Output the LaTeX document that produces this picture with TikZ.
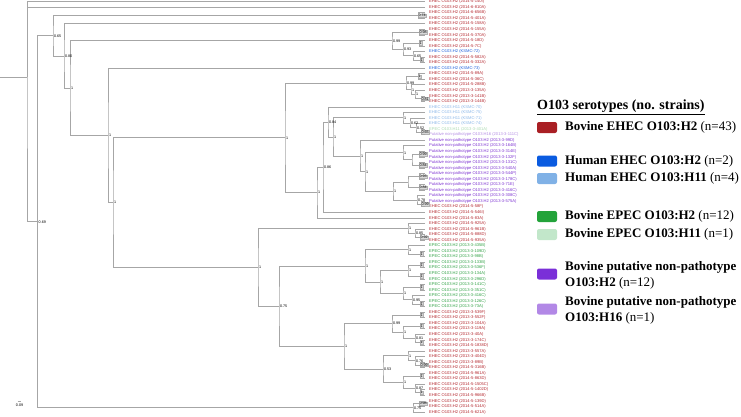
\documentclass[tikz,border=0pt]{standalone}
\usepackage{fontspec}
\setmainfont{Liberation Serif}
\newfontfamily\treefont{Liberation Sans}
\usetikzlibrary{calc}
\definecolor{ehec}{HTML}{B3262D}
\definecolor{hhtwo}{HTML}{1D5FDB}
\definecolor{hheleven}{HTML}{8AB6E8}
\definecolor{epec}{HTML}{2EA043}
\definecolor{epeceleven}{HTML}{A9D9B0}
\definecolor{put}{HTML}{7B30D0}
\definecolor{putsixteen}{HTML}{B38BE3}
\definecolor{kred}{HTML}{A91F24}
\definecolor{kblue}{HTML}{0A5BE0}
\definecolor{klblue}{HTML}{80B1E6}
\definecolor{kgreen}{HTML}{23A33A}
\definecolor{klgreen}{HTML}{C2E7CA}
\definecolor{kpurple}{HTML}{7A2FD8}
\definecolor{klpurple}{HTML}{B288E6}
\newcommand\lf[3]{\node[leaf,text=#2] (L#1) at (425,{1.7+5.545*(#1-1)}) {#3};}
\newcommand\inode[6]{%
  \path ($(#3)!0.5!(#4)$) coordinate (m#1);
  \coordinate (#1) at (m#1 -| #2,0);
  \node[#6] (lb#1) at (#1) {#5};
  \draw[br] (#3) -| (#1) |- (#4);
}
\begin{document}
\begin{tikzpicture}[x=1pt,y=-1pt,
  br/.style={draw=gray!70, line width=0.8pt},
  leaf/.style={anchor=west, inner xsep=4pt, inner ysep=0pt, font=\treefont\fontsize{4.1}{4.5}\selectfont},
  nl/.style={anchor=west, xshift=0.6pt, inner sep=0.2pt, font=\treefont\fontsize{3.7}{4}\selectfont},
  cl/.style={anchor=west, inner sep=0.4pt, fill=gray!30, draw=gray!60, line width=0.3pt, font=\treefont\fontsize{3.7}{4}\selectfont},
  lbox/.style={minimum width=20pt, minimum height=11pt, rounded corners=2pt, inner sep=0pt},
  ltx/.style={anchor=west, inner sep=0pt, font=\fontsize{13}{16}\selectfont, align=left},
]
\useasboundingbox (0,0) rectangle (741,416);
% leaves
\lf{1}{ehec}{EHEC O103:H2 (2014-5-140I)}
\lf{2}{ehec}{EHEC O103:H2 (2014-6-810A)}
\lf{3}{ehec}{EHEC O103:H2 (2014-6-656B)}
\lf{4}{ehec}{EHEC O103:H2 (2014-5-401A)}
\lf{5}{ehec}{EHEC O103:H2 (2014-5-158A)}
\lf{6}{ehec}{EHEC O103:H2 (2014-5-155A)}
\lf{7}{ehec}{EHEC O103:H2 (2014-5-370A)}
\lf{8}{ehec}{EHEC O103:H2 (2014-5-18D)}
\lf{9}{ehec}{EHEC O103:H2 (2014-5-7C)}
\lf{10}{hhtwo}{EHEC O103:H2 (KSMC-72)}
\lf{11}{ehec}{EHEC O103:H2 (2014-5-582A)}
\lf{12}{ehec}{EHEC O103:H2 (2014-5-332A)}
\lf{13}{hhtwo}{EHEC O103:H2 (KSMC-73)}
\lf{14}{ehec}{EHEC O103:H2 (2014-5-89A)}
\lf{15}{ehec}{EHEC O103:H2 (2014-5-36C)}
\lf{16}{ehec}{EHEC O103:H2 (2014-5-288B)}
\lf{17}{ehec}{EHEC O103:H2 (2013-3-135A)}
\lf{18}{ehec}{EHEC O103:H2 (2013-3-141B)}
\lf{19}{ehec}{EHEC O103:H2 (2013-3-144B)}
\lf{20}{hheleven}{EHEC O103:H11 (KSMC-70)}
\lf{21}{hheleven}{EHEC O103:H11 (KSMC-75)}
\lf{22}{hheleven}{EHEC O103:H11 (KSMC-71)}
\lf{23}{hheleven}{EHEC O103:H11 (KSMC-74)}
\lf{24}{epeceleven}{EPEC O103:H11 (2013-3-401A)}
\lf{25}{putsixteen}{Putative non-pathotype O103:H16 (2013-3-111C)}
\lf{26}{put}{Putative non-pathotype O103:H2 (2013-3-99D)}
\lf{27}{put}{Putative non-pathotype O103:H2 (2013-3-164B)}
\lf{28}{put}{Putative non-pathotype O103:H2 (2013-3-314E)}
\lf{29}{put}{Putative non-pathotype O103:H2 (2013-3-132F)}
\lf{30}{put}{Putative non-pathotype O103:H2 (2013-3-131C)}
\lf{31}{put}{Putative non-pathotype O103:H2 (2013-3-540A)}
\lf{32}{put}{Putative non-pathotype O103:H2 (2013-3-544P)}
\lf{33}{put}{Putative non-pathotype O103:H2 (2013-3-178C)}
\lf{34}{put}{Putative non-pathotype O103:H2 (2013-3-71E)}
\lf{35}{put}{Putative non-pathotype O103:H2 (2013-3-416C)}
\lf{36}{put}{Putative non-pathotype O103:H2 (2013-3-308C)}
\lf{37}{put}{Putative non-pathotype O103:H2 (2013-3-575A)}
\lf{38}{ehec}{EHEC O103:H2 (2014-5-58F)}
\lf{39}{ehec}{EHEC O103:H2 (2014-5-546I)}
\lf{40}{ehec}{EHEC O103:H2 (2014-5-83A)}
\lf{41}{ehec}{EHEC O103:H2 (2014-5-925A)}
\lf{42}{ehec}{EHEC O103:H2 (2014-5-961B)}
\lf{43}{ehec}{EHEC O103:H2 (2014-5-888D)}
\lf{44}{ehec}{EHEC O103:H2 (2014-5-935A)}
\lf{45}{epec}{EPEC O103:H2 (2013-3-435B)}
\lf{46}{epec}{EPEC O103:H2 (2013-3-109D)}
\lf{47}{epec}{EPEC O103:H2 (2013-3-98B)}
\lf{48}{epec}{EPEC O103:H2 (2013-3-133B)}
\lf{49}{epec}{EPEC O103:H2 (2013-3-536F)}
\lf{50}{epec}{EPEC O103:H2 (2013-3-134A)}
\lf{51}{epec}{EPEC O103:H2 (2013-3-296D)}
\lf{52}{epec}{EPEC O103:H2 (2013-3-141C)}
\lf{53}{epec}{EPEC O103:H2 (2013-3-351C)}
\lf{54}{epec}{EPEC O103:H2 (2013-3-416C)}
\lf{55}{epec}{EPEC O103:H2 (2013-3-126C)}
\lf{56}{epec}{EPEC O103:H2 (2013-3-73A)}
\lf{57}{ehec}{EHEC O103:H2 (2013-3-539F)}
\lf{58}{ehec}{EHEC O103:H2 (2013-3-552F)}
\lf{59}{ehec}{EHEC O103:H2 (2013-3-104A)}
\lf{60}{ehec}{EHEC O103:H2 (2013-3-119A)}
\lf{61}{ehec}{EHEC O103:H2 (2013-3-40A)}
\lf{62}{ehec}{EHEC O103:H2 (2013-3-174C)}
\lf{63}{ehec}{EHEC O103:H2 (2014-5-1838D)}
\lf{64}{ehec}{EHEC O103:H2 (2013-3-557A)}
\lf{65}{ehec}{EHEC O103:H2 (2013-3-404D)}
\lf{66}{ehec}{EHEC O103:H2 (2013-3-89B)}
\lf{67}{ehec}{EHEC O103:H2 (2014-5-316B)}
\lf{68}{ehec}{EHEC O103:H2 (2014-5-961A)}
\lf{69}{ehec}{EHEC O103:H2 (2014-5-863D)}
\lf{70}{ehec}{EHEC O103:H2 (2014-5-1505C)}
\lf{71}{ehec}{EHEC O103:H2 (2014-5-1402D)}
\lf{72}{ehec}{EHEC O103:H2 (2014-5-966B)}
\lf{73}{ehec}{EHEC O103:H2 (2014-5-139D)}
\lf{74}{ehec}{EHEC O103:H2 (2014-5-514A)}
\lf{75}{ehec}{EHEC O103:H2 (2014-5-621A)}
% internal nodes
\inode{nA74}{418}{L3.west}{L4.west}{0.74}{cl}
\inode{nA98}{419}{L6.west}{L7.west}{0.98}{cl}
\inode{nAa}{419}{L8.west}{L9.west}{1}{cl}
\inode{nAb}{420}{L11.west}{L12.west}{1}{cl}
\inode{nA65}{413}{L10.west}{nAb}{0.65}{nl}
\inode{nA93}{403}{nAa}{nA65}{0.93}{nl}
\inode{nA99}{392}{nA98}{nA93}{0.99}{nl}
\inode{nBa}{418}{L14.west}{L15.west}{1}{cl}
\inode{nB81}{421}{L18.west}{L19.west}{0.81}{cl}
\inode{nBc}{415}{L17.west}{nB81}{1}{nl}
\inode{nBb}{411}{L16.west}{nBc}{1}{nl}
\inode{nB99}{406}{nBa}{nBb}{0.99}{nl}
\inode{nP}{421}{L24.west}{L25.west}{0.65}{cl}
\inode{nO}{416}{L23.west}{nP}{0.52}{nl}
\inode{nN}{410}{L22.west}{nO}{0.62}{nl}
\inode{nM}{403}{L21.west}{nN}{1}{nl}
\inode{nC99}{419}{L28.west}{L29.west}{0.99}{cl}
\inode{nC84}{419}{L30.west}{L31.west}{0.84}{cl}
\inode{nS2}{412}{nC99}{nC84}{}{nl}
\inode{nS}{403}{L27.west}{nS2}{1}{nl}
\inode{nD93}{419}{L32.west}{L33.west}{0.93}{cl}
\inode{nD84}{419}{L34.west}{L35.west}{0.84}{cl}
\inode{nT1}{408}{nD93}{nD84}{}{nl}
\inode{nD99}{421}{L37.west}{L38.west}{0.99}{cl}
\inode{nD78}{417}{L36.west}{nD99}{0.78}{nl}
\inode{nT}{393}{nT1}{nD78}{1}{nl}
\inode{nR}{365}{nS}{nT}{1}{nl}
\inode{nQ}{360}{L26.west}{nR}{1}{nl}
\inode{nL}{333}{nM}{nQ}{1}{nl}
\inode{nK}{328}{L20.west}{nL}{0.84}{nl}
\inode{nJ}{323}{nK}{L39.west}{0.86}{nl}
\inode{nI}{317}{nJ}{L40.west}{1}{nl}
\inode{nG}{285}{nB99}{nI}{1}{nl}
\inode{nE92}{420}{L43.west}{L44.west}{0.92}{cl}
\inode{nV}{415}{L42.west}{nE92}{0.85}{nl}
\inode{nU}{408}{L41.west}{nV}{1}{nl}
\inode{nFa}{420}{L46.west}{L47.west}{1}{cl}
\inode{nZ}{408}{L45.west}{nFa}{1}{nl}
\inode{nFb}{420}{L48.west}{L49.west}{1}{cl}
\inode{nFc}{420}{L50.west}{L51.west}{1}{cl}
\inode{nAB}{408}{nFb}{nFc}{1}{nl}
\inode{nFd}{420}{L52.west}{L53.west}{1}{cl}
\inode{nFe}{420}{L55.west}{L56.west}{1}{cl}
\inode{nAD}{412}{L54.west}{nFe}{0.95}{nl}
\inode{nAC}{403}{nFd}{nAD}{1}{nl}
\inode{nAA}{380}{nAB}{nAC}{1}{nl}
\inode{nY}{365}{nZ}{nAA}{1}{nl}
\inode{nGa}{420}{L57.west}{L58.west}{1}{cl}
\inode{nGb}{420}{L59.west}{L60.west}{1}{cl}
\inode{nGc}{420}{L62.west}{L63.west}{1}{cl}
\inode{nAH}{415}{L61.west}{nGc}{0.81}{nl}
\inode{nAG}{403}{nGb}{nAH}{1}{nl}
\inode{nAE}{392}{nGa}{nAG}{0.99}{nl}
\inode{nGd}{420}{L66.west}{L67.west}{0.99}{cl}
\inode{nAK}{415}{L65.west}{nGd}{0.76}{nl}
\inode{nAI}{408}{L64.west}{nAK}{1}{nl}
\inode{nGe}{420}{L68.west}{L69.west}{1}{cl}
\inode{nGf}{420}{L71.west}{L72.west}{1}{cl}
\inode{nAL}{415}{L70.west}{nGf}{0.87}{nl}
\inode{nAJ}{403}{nGe}{nAL}{1}{nl}
\inode{nAF}{383}{nAI}{nAJ}{0.53}{nl}
\inode{nX}{344}{nAE}{nAF}{1}{nl}
\inode{nW}{279}{nY}{nX}{0.75}{nl}
\inode{nH}{258}{nU}{nW}{1}{nl}
\inode{nF}{113}{nG}{nH}{1}{nl}
\inode{nE}{108}{L13.west}{nF}{1}{nl}
\inode{nD}{70}{nA99}{nE}{1}{nl}
\inode{nC}{64}{L5.west}{nD}{0.80}{nl}
\inode{nB}{53}{nA74}{nC}{0.65}{nl}
\inode{nH98}{419}{L73.west}{L74.west}{0.98}{cl}
\inode{nH75}{413}{nH98}{L75.west}{0.75}{nl}
\inode{nA}{37.7}{nB}{nH75}{0.69}{nl}
\coordinate (root) at (27,77);
\coordinate (stub) at (0,77);
\draw[br] (L1.west) -| (root) |- (nA);
\draw[br] (L2.west) -| (root);
\draw[br] (stub) -- (root);
% scale bar
\coordinate (sba) at (17.5,401.5);
\coordinate (sbb) at (20.5,401.5);
\draw[br, line width=0.5pt] (sba) -- (sbb);
\node[nl, anchor=north, xshift=0pt] (sbt) at (19,403.5) {0.09};
% legend
\node[anchor=west, inner sep=0pt, font=\fontsize{14}{16}\selectfont\bfseries] (ttl) at (537,107) {\underline{O103 serotypes (no. strains)}};
\node[lbox, fill=kred] (k1) at (547,127.5) {};
\node[ltx] (x1) at (565,127.5) {\textbf{Bovine EHEC O103:H2} (n=43)};
\node[lbox, fill=kblue] (k2) at (547,161) {};
\node[ltx] (x2) at (565,161) {\textbf{Human EHEC O103:H2} (n=2)};
\node[lbox, fill=klblue] (k3) at (547,178.5) {};
\node[ltx] (x3) at (565,178.5) {\textbf{Human EHEC O103:H11} (n=4)};
\node[lbox, fill=kgreen] (k4) at (547,216.5) {};
\node[ltx] (x4) at (565,216.5) {\textbf{Bovine EPEC O103:H2} (n=12)};
\node[lbox, fill=klgreen] (k5) at (547,234.5) {};
\node[ltx] (x5) at (565,234.5) {\textbf{Bovine EPEC O103:H11} (n=1)};
\node[lbox, fill=kpurple] (k6) at (547,274) {};
\node[ltx] (x6) at (565,275) {\textbf{Bovine putative non-pathotype}\\\textbf{O103:H2} (n=12)};
\node[lbox, fill=klpurple] (k7) at (547,309) {};
\node[ltx] (x7) at (565,310) {\textbf{Bovine putative non-pathotype}\\\textbf{O103:H16} (n=1)};
\end{tikzpicture}
\end{document}
